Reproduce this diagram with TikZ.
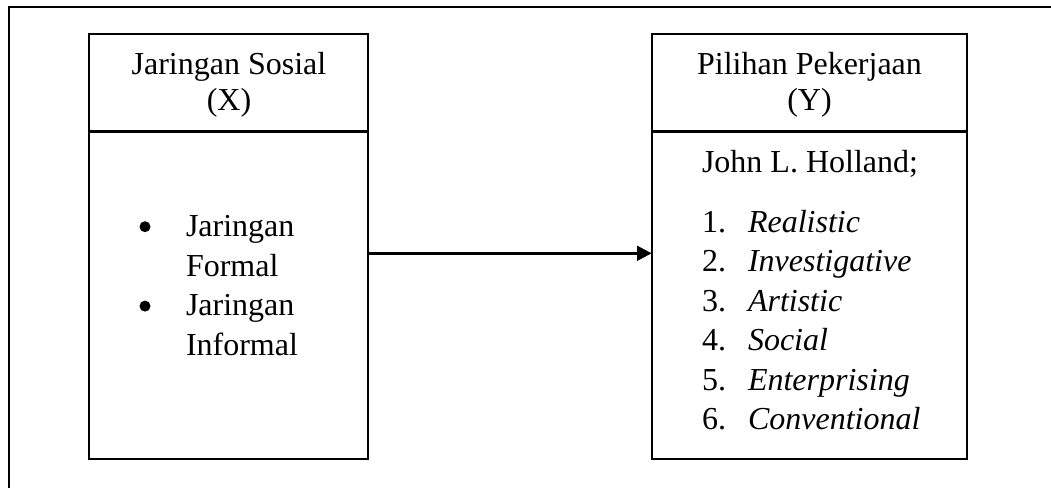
\documentclass[tikz,border=0pt]{standalone}
\usepackage{fontspec}
\setmainfont{Liberation Serif}
\usetikzlibrary{arrows.meta}
\begin{document}
\begin{tikzpicture}[x=0.75pt,y=-0.75pt,
  frame/.style={draw=black,line width=1.5pt},
  boxpart/.style={draw=black,line width=1.5pt,rectangle,inner sep=0pt,outer sep=0pt},
  txt/.style={inner sep=0pt,outer sep=0pt,font=\fontsize{24}{27}\selectfont},
  itx/.style={txt,font=\fontsize{24}{27}\selectfont\itshape},
  bulletdot/.style={circle,fill=black,inner sep=0pt,minimum size=8.25pt},
  arrowline/.style={draw=black,line width=2pt,-{Triangle[length=11pt,width=11pt]}}]
\useasboundingbox (0,0) rectangle (1051,488);
% outer frame (top and left edges visible)
\draw[frame] (1052,7.3) -- (9.3,7.3) -- (9.3,489);
% left box
\node[boxpart,minimum width=208.9pt,minimum height=72.75pt] (hdrX) at (228.75,83) {};
\node[boxpart,minimum width=208.9pt,minimum height=245.6pt] (bodyX) at (228.75,295.25) {};
% right box
\node[boxpart,minimum width=236.5pt,minimum height=72.75pt] (hdrY) at (809.35,83) {};
\node[boxpart,minimum width=236.5pt,minimum height=245.6pt] (bodyY) at (809.35,295.25) {};
% header texts
\node[txt,anchor=base] (tX1) at (229,75) {Jaringan Sosial};
\node[txt,anchor=base] (tX2) at (229,111) {(X)};
\node[txt,anchor=base] (tY1) at (809.5,75) {Pilihan Pekerjaan};
\node[txt,anchor=base] (tY2) at (809.5,111) {(Y)};
% left list
\node[bulletdot] (b1) at (145,226.7) {};
\node[txt,anchor=base west] (l1) at (186,236.5) {Jaringan};
\node[txt,anchor=base west] (l2) at (186,276.2) {Formal};
\node[bulletdot] (b2) at (145,306.1) {};
\node[txt,anchor=base west] (l3) at (186,315.9) {Jaringan};
\node[txt,anchor=base west] (l4) at (186,355.6) {Informal};
% right list
\node[txt,anchor=base west] (jh) at (702,173) {John L. Holland;};
\node[txt,anchor=base west] (n1) at (702,232.5) {1.};
\node[itx,anchor=base west] (r1) at (748,232.5) {Realistic};
\node[txt,anchor=base west] (n2) at (702,272) {2.};
\node[itx,anchor=base west] (r2) at (748,272) {Investigative};
\node[txt,anchor=base west] (n3) at (702,311.5) {3.};
\node[itx,anchor=base west] (r3) at (748,311.5) {Artistic};
\node[txt,anchor=base west] (n4) at (702,351) {4.};
\node[itx,anchor=base west] (r4) at (748,351) {Social};
\node[txt,anchor=base west] (n5) at (702,390.5) {5.};
\node[itx,anchor=base west] (r5) at (748,390.5) {Enterprising};
\node[txt,anchor=base west] (n6) at (702,430) {6.};
\node[itx,anchor=base west] (r6) at (748,430) {Conventional};
% arrow
\coordinate (arrowy) at (500,253.3);
\draw[arrowline] (bodyX.east |- arrowy) -- (bodyY.west |- arrowy);
\end{tikzpicture}
\end{document}
